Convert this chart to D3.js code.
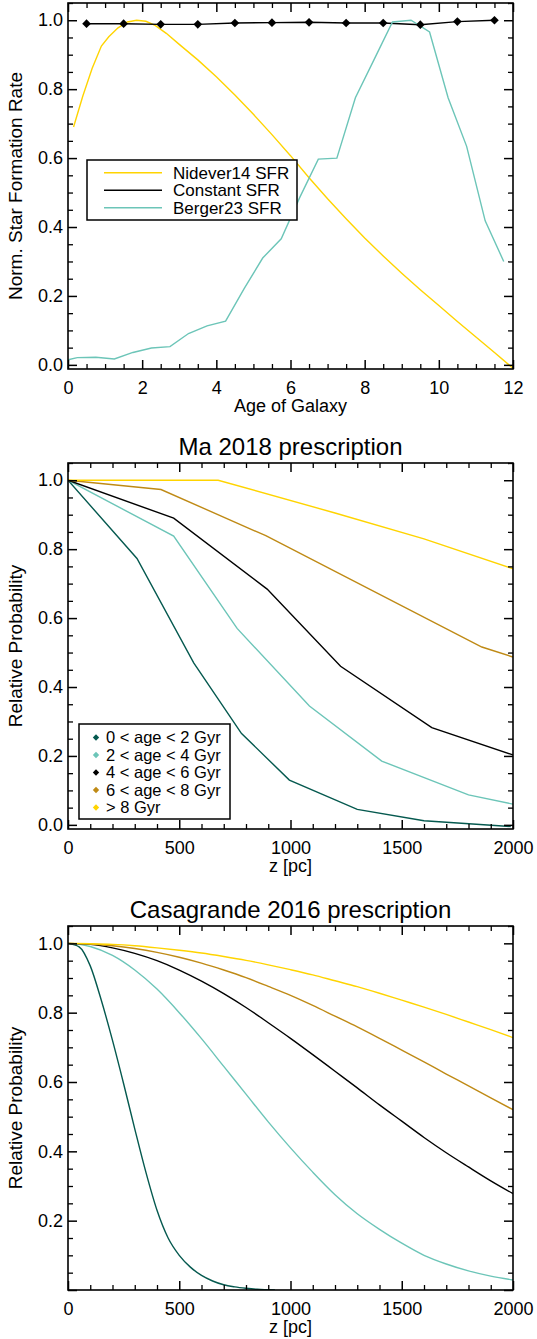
<!DOCTYPE html>
<html>
<head>
<meta charset="utf-8">
<script src="https://cdn.jsdelivr.net/npm/d3@7/dist/d3.min.js"></script>
<style>
  body { margin: 0; background: #fff; }
  text { font-family: "Liberation Sans", Arial, Helvetica, sans-serif; fill: #000; }
</style>
</head>
<body>
<div id="chart"></div>
<script>
// ---- Panel 1: normalised star formation histories (age in Gyr) ----
const nideverAge = [0.15, 0.4, 0.65, 0.9, 1.1, 1.35, 1.6, 1.85, 2.1, 2.35, 2.65, 3.0, 3.5, 4.0, 4.5,
  5.0, 5.5, 6.0, 6.5, 7.0, 7.5, 8.0, 8.5, 9.0, 9.5, 10.0, 10.5, 11.0, 11.5, 12.0];
const nideverRate = [0.69, 0.78, 0.86, 0.925, 0.952, 0.978, 0.995, 1.0, 0.997, 0.985, 0.962, 0.93, 0.885, 0.836, 0.783,
  0.727, 0.668, 0.607, 0.543, 0.482, 0.424, 0.368, 0.316, 0.266, 0.218, 0.172, 0.126, 0.081, 0.036, -0.01];

const constantAge = [0.5, 1.5, 2.5, 3.5, 4.5, 5.5, 6.5, 7.5, 8.5, 9.5, 10.5, 11.5];
const constantRate = [0.99, 0.99, 0.988, 0.988, 0.992, 0.993, 0.994, 0.992, 0.992, 0.987, 0.996, 1.0];

const bergerAge = [0, 0.25, 0.75, 1.25, 1.75, 2.25, 2.75, 3.25, 3.75, 4.25, 4.75, 5.25, 5.75, 6.25,
  6.75, 7.25, 7.75, 8.25, 8.75, 9.25, 9.75, 10.25, 10.75, 11.25, 11.75];
const bergerRate = [0.015, 0.021, 0.022, 0.017, 0.036, 0.049, 0.053, 0.091, 0.113, 0.127, 0.221, 0.31, 0.366, 0.486,
  0.597, 0.6, 0.775, 0.885, 0.995, 1.0, 0.966, 0.775, 0.634, 0.418, 0.3];

// ---- Panel 2: Ma 2018 prescription, [z (pc), probability] ----
const maAge0to2 = [[0, 1.0], [310, 0.773], [565, 0.47], [780, 0.265], [995, 0.13], [1300, 0.045], [1600, 0.012], [1990, -0.005]];
const maAge2to4 = [[0, 1.0], [475, 0.838], [760, 0.57], [1085, 0.345], [1410, 0.185], [1800, 0.087], [2000, 0.06]];
const maAge4to6 = [[0, 1.0], [475, 0.89], [895, 0.684], [1225, 0.46], [1635, 0.282], [2000, 0.203]];
const maAge6to8 = [[0, 1.0], [418, 0.973], [889, 0.839], [1860, 0.516], [2000, 0.487]];
const maAgeOld = [[0, 1.0], [675, 1.0], [1200, 0.905], [1600, 0.83], [2000, 0.743]];

// ---- Panel 3: Casagrande 2016 prescription ----
const casaYoungZ = [0, 50, 100, 150, 200, 250, 300, 350, 400, 450, 500, 550, 600, 650, 700, 750, 800, 850, 930];
const casaAge0to2 = [1.0, 0.99, 0.935, 0.835, 0.72, 0.595, 0.465, 0.34, 0.23, 0.15, 0.1, 0.066, 0.042, 0.026, 0.015, 0.009, 0.005, 0.002, 0.0];
const casaZ = [0, 100, 200, 300, 400, 500, 600, 700, 800, 900, 1000, 1100, 1200, 1300, 1400, 1500, 1600, 1700, 1800, 1900, 2000];
const casaAge2to4 = [1.0, 0.991, 0.965, 0.923, 0.868, 0.8, 0.725, 0.645, 0.565, 0.485, 0.41, 0.34, 0.275, 0.22, 0.175, 0.135, 0.1, 0.075, 0.055, 0.04, 0.029];
const casaAge4to6 = [1.0, 0.997, 0.987, 0.971, 0.95, 0.923, 0.891, 0.855, 0.815, 0.771, 0.726, 0.679, 0.631, 0.583, 0.534, 0.487, 0.44, 0.396, 0.355, 0.315, 0.278];
const casaAge6to8 = [1.0, 0.998, 0.993, 0.985, 0.974, 0.96, 0.943, 0.923, 0.901, 0.876, 0.85, 0.821, 0.79, 0.759, 0.726, 0.692, 0.658, 0.623, 0.589, 0.554, 0.52];
const casaAgeOld = [1.0, 0.999, 0.997, 0.993, 0.987, 0.98, 0.972, 0.962, 0.951, 0.938, 0.924, 0.909, 0.892, 0.875, 0.856, 0.836, 0.816, 0.795, 0.773, 0.751, 0.728];

const ageLabels = ["0 < age < 2 Gyr", "2 < age < 4 Gyr", "4 < age < 6 Gyr", "6 < age < 8 Gyr", "> 8 Gyr"];
const ageColors = ["#05594f", "#6cc5b8", "#000000", "#bf8a15", "#ffd400"];
const sfrLabels = ["Nidever14 SFR", "Constant SFR", "Berger23 SFR"];
const sfrColors = ["#ffd400", "#000000", "#6cc5b8"];

const width = 537, height = 1339;
const plotLeft = 68, plotRight = 513;
const fontTick = 18;

const svg = d3.select("#chart").append("svg")
  .attr("width", width)
  .attr("height", height);

function rangeStep(a, b, s) {
  const out = [];
  for (let v = a; v <= b + 1e-9; v += s) out.push(+v.toFixed(4));
  return out;
}

function drawPanel(p) {
  const x = d3.scaleLinear().domain(p.xDomain).range([plotLeft, plotRight]);
  const y = d3.scaleLinear().domain(p.yDomain).range([p.bottom, p.top]);
  const g = svg.append("g");

  g.append("clipPath").attr("id", "clip" + p.id)
    .append("rect")
    .attr("x", plotLeft).attr("y", p.top)
    .attr("width", plotRight - plotLeft).attr("height", p.bottom - p.top);

  const plot = g.append("g").attr("clip-path", `url(#clip${p.id})`);

  // ticks on all four sides, pointing inward (IDL style)
  const minorX = rangeStep(p.xDomain[0], p.xDomain[1], p.xMinor).filter(v => !p.xMajor.some(m => Math.abs(m - v) < 1e-6));
  const minorY = rangeStep(0, p.yDomain[1], 0.05).filter(v => !p.yMajor.some(m => Math.abs(m - v) < 1e-6) && v >= p.yDomain[0]);

  const axes = [
    [() => d3.axisBottom(x), `translate(0,${p.bottom})`, "x", true],
    [() => d3.axisTop(x), `translate(0,${p.top})`, "x", false],
    [() => d3.axisLeft(y), `translate(${plotLeft},0)`, "y", true],
    [() => d3.axisRight(y), `translate(${plotRight},0)`, "y", false],
  ];
  axes.forEach(([makeAxis, tr, dim, labelled]) => {
    const major = dim === "x" ? p.xMajor : p.yMajor;
    const minor = dim === "x" ? minorX : minorY;
    const fmt = dim === "x" ? d3.format("d") : d3.format(".1f");
    const labelTicks = dim === "y" && p.yLabelled ? p.yLabelled : major;
    g.append("g").attr("transform", tr)
      .call(makeAxis().tickValues(minor).tickSize(-5).tickSizeOuter(0).tickFormat(""))
      .call(a => a.select(".domain").remove())
      .selectAll("line").attr("stroke", "#000").attr("stroke-width", 1.3);
    const ag = g.append("g").attr("transform", tr)
      .call(makeAxis().tickValues(major).tickSize(-9).tickSizeOuter(0)
        .tickPadding(dim === "x" ? 12 : 5)
        .tickFormat(d => labelled && labelTicks.includes(d) ? fmt(d) : ""))
      .call(a => a.select(".domain").remove());
    ag.selectAll("line").attr("stroke", "#000").attr("stroke-width", 1.5);
    ag.selectAll("text").attr("font-size", fontTick).attr("font-family", "Liberation Sans, Arial, sans-serif");
  });

  g.append("rect")
    .attr("x", plotLeft).attr("y", p.top)
    .attr("width", plotRight - plotLeft).attr("height", p.bottom - p.top)
    .attr("fill", "none").attr("stroke", "#000").attr("stroke-width", 1.6);

  // axis titles
  g.append("text")
    .attr("x", (plotLeft + plotRight) / 2).attr("y", p.bottom + 43)
    .attr("text-anchor", "middle").attr("font-size", 18)
    .text(p.xTitle);
  g.append("text")
    .attr("transform", `translate(22,${(p.top + p.bottom) / 2}) rotate(-90)`)
    .attr("text-anchor", "middle").attr("font-size", 19)
    .text(p.yTitle);
  if (p.title) {
    g.append("text")
      .attr("x", (plotLeft + plotRight) / 2).attr("y", p.top - 8)
      .attr("text-anchor", "middle").attr("font-size", 24)
      .text(p.title);
  }
  return { x, y, plot, g };
}

// ---------------- Panel 1 ----------------
const p1 = drawPanel({
  id: 1, top: 3, bottom: 369,
  xDomain: [0, 12], yDomain: [-0.012, 1.05],
  xMajor: [0, 2, 4, 6, 8, 10, 12], xMinor: 0.5,
  yMajor: [0, 0.2, 0.4, 0.6, 0.8, 1.0],
  xTitle: "Age of Galaxy", yTitle: "Norm. Star Formation Rate",
});

const line1 = d3.line().x(d => p1.x(d[0])).y(d => p1.y(d[1]));
const sfrSeries = [
  d3.zip(nideverAge, nideverRate),
  d3.zip(constantAge, constantRate),
  d3.zip(bergerAge, bergerRate),
];
sfrSeries.forEach((s, i) => {
  p1.plot.append("path").datum(s)
    .attr("d", line1)
    .attr("fill", "none")
    .attr("stroke", sfrColors[i])
    .attr("stroke-width", 1.4);
});
const diamond = d3.symbol().type(d3.symbolDiamond2);
p1.plot.selectAll(".mark")
  .data(sfrSeries[1])
  .join("path")
  .attr("class", "mark")
  .attr("transform", d => `translate(${p1.x(d[0])},${p1.y(d[1])})`)
  .attr("d", diamond.size(48))
  .attr("fill", "#000");

// legend (panel 1)
const leg1 = p1.g.append("g");
leg1.append("rect").attr("x", 87).attr("y", 160).attr("width", 210).attr("height", 60)
  .attr("fill", "#fff").attr("stroke", "#000").attr("stroke-width", 1.5);
sfrLabels.forEach((lab, i) => {
  const yy = 172.7 + i * 17.5;
  leg1.append("line").attr("x1", 104).attr("x2", 162).attr("y1", yy).attr("y2", yy)
    .attr("stroke", sfrColors[i]).attr("stroke-width", 1.4);
  leg1.append("text").attr("x", 173).attr("y", yy).attr("dy", "0.36em")
    .attr("font-size", 17).text(lab);
});

// ---------------- Panel 2 ----------------
const p2 = drawPanel({
  id: 2, top: 463, bottom: 829,
  xDomain: [0, 2000], yDomain: [-0.012, 1.05],
  xMajor: [0, 500, 1000, 1500, 2000], xMinor: 100,
  yMajor: [0, 0.2, 0.4, 0.6, 0.8, 1.0],
  xTitle: "z [pc]", yTitle: "Relative Probability",
  title: "Ma 2018 prescription",
});
const line2 = d3.line().x(d => p2.x(d[0])).y(d => p2.y(d[1]));
[maAge0to2, maAge2to4, maAge4to6, maAge6to8, maAgeOld].forEach((s, i) => {
  p2.plot.append("path").datum(s)
    .attr("d", line2)
    .attr("fill", "none")
    .attr("stroke", ageColors[i])
    .attr("stroke-width", 1.4);
});

const leg2 = p2.g.append("g");
leg2.append("rect").attr("x", 79).attr("y", 724).attr("width", 151).attr("height", 95)
  .attr("fill", "#fff").attr("stroke", "#000").attr("stroke-width", 1.5);
ageLabels.forEach((lab, i) => {
  const yy = 737.5 + i * 17.5;
  leg2.append("path")
    .attr("transform", `translate(96,${yy})`)
    .attr("d", d3.symbol().type(d3.symbolDiamond2).size(26)())
    .attr("fill", ageColors[i]);
  leg2.append("text").attr("x", 106).attr("y", yy).attr("dy", "0.36em")
    .attr("font-size", 16.5).text(lab);
});

// ---------------- Panel 3 ----------------
const p3 = drawPanel({
  id: 3, top: 926, bottom: 1290,
  xDomain: [0, 2000], yDomain: [0, 1.05],
  xMajor: [0, 500, 1000, 1500, 2000], xMinor: 100,
  yMajor: [0, 0.2, 0.4, 0.6, 0.8, 1.0],
  yLabelled: [0.2, 0.4, 0.6, 0.8, 1.0],
  xTitle: "z [pc]", yTitle: "Relative Probability",
  title: "Casagrande 2016 prescription",
});
const line3 = d3.line().x(d => p3.x(d[0])).y(d => p3.y(d[1])).curve(d3.curveMonotoneX);
[
  d3.zip(casaYoungZ, casaAge0to2),
  d3.zip(casaZ, casaAge2to4),
  d3.zip(casaZ, casaAge4to6),
  d3.zip(casaZ, casaAge6to8),
  d3.zip(casaZ, casaAgeOld),
].forEach((s, i) => {
  p3.plot.append("path").datum(s)
    .attr("d", line3)
    .attr("fill", "none")
    .attr("stroke", ageColors[i])
    .attr("stroke-width", 1.4);
});
</script>
</body>
</html>
